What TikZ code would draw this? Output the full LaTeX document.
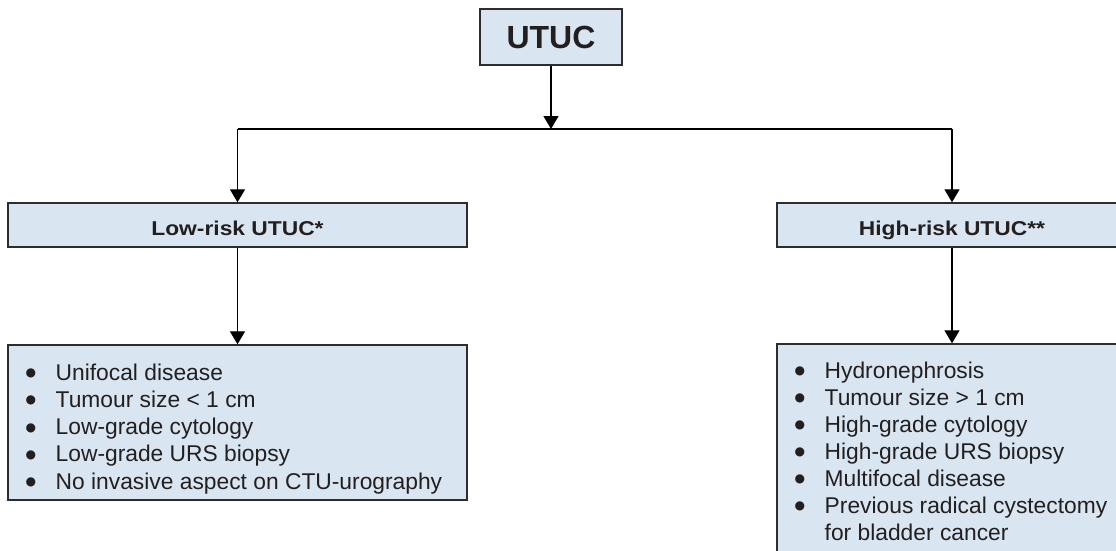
\documentclass[tikz,border=0pt]{standalone}
\usepackage{fontspec}
\setmainfont{Liberation Sans}
\newfontfamily\symfont{DejaVu Sans}
\usetikzlibrary{arrows.meta}
\definecolor{boxfill}{RGB}{217,230,242}
\definecolor{boxline}{RGB}{45,45,45}
\definecolor{ink}{RGB}{35,31,32}
\tikzset{
  box/.style={draw=boxline, line width=1.4pt, fill=boxfill, inner sep=0pt, text=ink},
  titlebox/.style={box, font=\fontsize{32}{36}\selectfont\bfseries},
  risktext/.style={inner sep=0pt, text=ink, font=\fontsize{20}{24}\selectfont\bfseries, text height=21pt, text depth=0pt},
  listline/.style={anchor=base west, inner sep=0pt, text=ink, font=\fontsize{22.8}{27}\selectfont},
  link/.style={draw=black, line width=1.3pt},
  arrowlink/.style={link, -{Triangle[width=15pt,length=13pt]}}
}
\newcommand{\wide}[1]{\scalebox{1.14}[1]{#1}}
% bullet followed by the item text, with a fixed indent
\newcommand{\bitem}[1]{\makebox[30pt][l]{\raisebox{3.6pt}{\symfont\fontsize{12}{12}\selectfont ●}}#1}
\begin{document}
\begin{tikzpicture}[x=1pt,y=-1pt]
\useasboundingbox (0,0) rectangle (1116,550);
\clip (0,0) rectangle (1116,550);

% boxes
\node[titlebox, minimum width=142pt, minimum height=56pt] (utuc) at (551,37) {UTUC};
\node[box, minimum width=459pt, minimum height=44pt] (low) at (237.5,225) {};
\node[box, minimum width=350pt, minimum height=44pt] (high) at (952,225) {};
\node[risktext] (lowtitle) at (237.5,225) {\wide{Low-risk UTUC*}};
\node[risktext] (hightitle) at (952,225) {\wide{High-risk UTUC**}};
\node[box, minimum width=459pt, minimum height=155pt] (lowlist) at (237.5,422.5) {};
\node[box, minimum width=350pt, minimum height=216pt] (highlist) at (952,452) {};

% branching connectors
\coordinate (split) at (551,129);
\coordinate (splitL) at (237.5,129);
\coordinate (splitR) at (952,129);
\draw[arrowlink] (utuc.south) -- (split);
\draw[link] (splitL) -- (splitR);
\draw[arrowlink] (splitL) -- (low.north);
\draw[arrowlink] (splitR) -- (high.north);
\draw[arrowlink] (low.south) -- (lowlist.north);
\draw[arrowlink] (high.south) -- (highlist.north);

% low-risk criteria
\foreach \t [count=\i] in {Unifocal disease, Tumour size < 1 cm, Low-grade cytology, Low-grade URS biopsy, No invasive aspect on CTU-urography}{
  \node[listline] (lt\i) at (25.5,{380+27.3*(\i-1)}) {\bitem{\t}};
}

% high-risk criteria
\foreach \t [count=\i] in {Hydronephrosis, Tumour size > 1 cm, High-grade cytology, High-grade URS biopsy, Multifocal disease, Previous radical cystectomy}{
  \node[listline] (ht\i) at (794.5,{378+27*(\i-1)}) {\bitem{\t}};
}
\node[listline] (ht7) at (824.5,540) {for bladder cancer};
\end{tikzpicture}
\end{document}
